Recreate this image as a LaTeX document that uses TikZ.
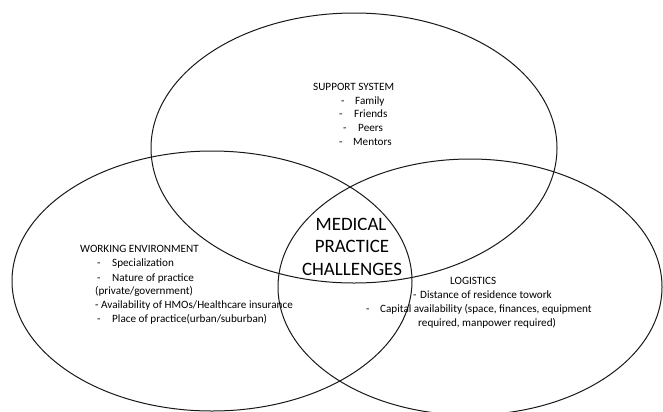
\documentclass[tikz,border=0pt]{standalone}
\usepackage{fontspec}
\setmainfont{Carlito}
\begin{document}
\begin{tikzpicture}[x=1bp,y=-1bp,
  ring/.style={draw=black!90, line width=1bp},
  txt/.style={anchor=base west, inner sep=0pt, font=\fontsize{11.2}{13}\selectfont},
  big/.style={anchor=base, inner sep=0pt, font=\fontsize{19}{22}\selectfont}]
\useasboundingbox (0,0) rectangle (663,411);
\fill[white] (0,0) rectangle (663,411);
% circles
\draw[ring] (354,148) ellipse [x radius=203, y radius=135];
\draw[ring] (212,281) ellipse [x radius=200, y radius=130];
\draw[ring] (470,287) ellipse [x radius=192, y radius=128];
% support system
\node[txt] (ss) at (313,90) {SUPPORT SYSTEM};
\node[txt] (ss1d) at (341,104) {-};
\node[txt] (ss1) at (355,104) {Family};
\node[txt] (ss2d) at (339,117) {-};
\node[txt] (ss2) at (354,117) {Friends};
\node[txt] (ss3d) at (343,131) {-};
\node[txt] (ss3) at (358,131) {Peers};
\node[txt] (ss4d) at (339,145) {-};
\node[txt] (ss4) at (353,145) {Mentors};
% working environment
\node[txt] (we) at (80,252) {WORKING ENVIRONMENT};
\node[txt] (we1d) at (97,266) {-};
\node[txt] (we1) at (112,266) {Specialization};
\node[txt] (we2d) at (97,281) {-};
\node[txt] (we2) at (112,281) {Nature of practice};
\node[txt] (we3) at (95,294) {(private/government)};
\node[txt] (we4) at (95,308) {- Availability of HMOs/Healthcare insurance};
\node[txt] (we5d) at (97,322) {-};
\node[txt] (we5) at (112,322) {Place of practice(urban/suburban)};
% logistics
\node[txt] (lg) at (450,284) {LOGISTICS};
\node[txt] (lg1d) at (413,298) {-};
\node[txt] (lg1) at (420,298) {Distance of residence towork};
\node[txt] (lg2d) at (366,312) {-};
\node[txt] (lg2) at (380,312) {Capital availability (space, finances, equipment};
\node[txt] (lg3) at (418,326) {required, manpower required)};
% centre
\node[big] (m1) at (351,230) {MEDICAL};
\node[big] (m2) at (352,252) {PRACTICE};
\node[big] (m3) at (352,275) {CHALLENGES};
\end{tikzpicture}
\end{document}
